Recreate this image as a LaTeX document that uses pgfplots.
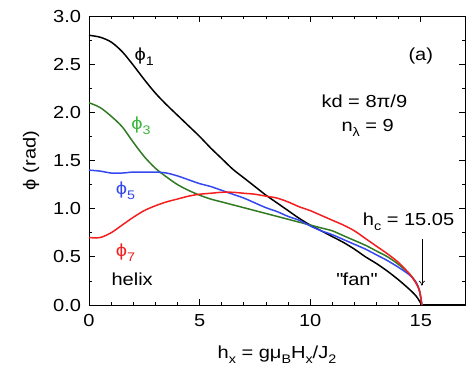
\documentclass[border=0pt]{standalone}
\usepackage{fontspec}
\setmainfont{Liberation Sans}[FakeStretch=1.15]
\usepackage{pgfplots}
\pgfplotsset{compat=1.18}
\usetikzlibrary{calc,arrows.meta}
\definecolor{lgreen}{HTML}{2F7A22}
\definecolor{tgreen}{HTML}{3DB53D}
\definecolor{lblue}{HTML}{3448F0}
\definecolor{lred}{HTML}{F41E1E}
\newcommand\sub[1]{\raisebox{-0.55ex}{\fontsize{12.5}{13}\selectfont #1}}

\pgfplotstableread{
x y
0 2.80
0.5 2.78
1 2.73
1.5 2.63
2 2.49
2.5 2.34
3 2.20
3.5 2.08
4 1.97
4.5 1.86
5 1.75
5.5 1.63
6 1.52
6.5 1.41
7 1.32
7.5 1.23
8 1.14
8.5 1.06
9 0.98
9.5 0.90
10 0.83
10.5 0.77
11 0.71
11.5 0.65
12 0.58
12.5 0.50
13 0.43
13.5 0.35
14 0.26
14.5 0.16
14.8 0.09
15.05 0.0
}\phione

\pgfplotstableread{
x y
15.05 0.0
17 0.0
}\phitail

\pgfplotstableread{
x y
0 2.10
0.5 2.05
1 1.96
1.5 1.85
2 1.69
2.5 1.54
3 1.42
3.5 1.33
4 1.25
4.5 1.19
5 1.14
5.5 1.10
6 1.07
6.5 1.04
7 1.01
7.5 0.98
8 0.95
8.5 0.92
9 0.89
9.5 0.86
10 0.83
10.5 0.80
11 0.77
11.5 0.72
12 0.67
12.5 0.62
13 0.56
13.5 0.50
14 0.42
14.5 0.32
14.8 0.23
14.95 0.14
15.05 0.0
}\phithree

\pgfplotstableread{
x y
0 1.40
0.5 1.39
1 1.37
1.5 1.37
2 1.38
2.5 1.38
3 1.38
3.5 1.37
4 1.34
4.5 1.30
5 1.26
5.5 1.23
6 1.19
6.5 1.15
7 1.11
7.5 1.06
8 1.01
8.5 0.97
9 0.92
9.5 0.88
10 0.82
10.5 0.77
11 0.73
11.5 0.68
12 0.63
12.5 0.58
13 0.52
13.5 0.46
14 0.39
14.5 0.31
14.8 0.23
14.95 0.14
15.05 0.0
}\phifive

\pgfplotstableread{
x y
0 0.70
0.5 0.70
1 0.75
1.5 0.83
2 0.91
2.5 0.98
3 1.03
3.5 1.07
4 1.10
4.5 1.13
5 1.15
5.5 1.16
6 1.17
6.5 1.17
7 1.16
7.5 1.15
8 1.13
8.5 1.11
9 1.07
9.5 1.02
10 0.98
10.5 0.93
11 0.88
11.5 0.83
12 0.77
12.5 0.69
13 0.61
13.5 0.53
14 0.44
14.5 0.32
14.8 0.22
14.95 0.14
15.05 0.0
}\phiseven

\begin{document}
\fontsize{17.5}{20}\selectfont
\begin{tikzpicture}
\begin{axis}[
  scale only axis, width=376bp, height=289bp,
  xmin=0, xmax=17, ymin=0, ymax=3,
  xtick={0,5,10,15}, minor x tick num=4,
  ytick={0,0.5,1,1.5,2,2.5,3}, minor y tick num=1,
  tick align=inside, major tick length=6bp, minor tick length=3.5bp,
  axis line style={line width=1pt}, every tick/.style={black, line width=0.8pt},
  /pgf/number format/assume math mode=true,
  yticklabel style={/pgf/number format/fixed, /pgf/number format/fixed zerofill,
    /pgf/number format/precision=1},
  ticklabel style={font=\fontsize{17.5}{20}\selectfont},
  xticklabel style={yshift=-3bp},
  yticklabel style={xshift=-2bp},
  xlabel={h\sub{x} = gμ\sub{B}H\sub{x}/J\sub{2}},
  ylabel={ϕ (rad)},
  label style={font=\fontsize{17.5}{20}\selectfont},
  xlabel style={yshift=-8bp},
  ylabel style={yshift=2bp},
  clip=false,
]
\coordinate (bl) at (rel axis cs:0,0);
\coordinate (tr) at (rel axis cs:1,1);
\addplot[black, line width=1.5pt, no marks, smooth] table {\phione};
\addplot[black, line width=1.5pt, no marks] table {\phitail};
\addplot[lgreen, line width=1.5pt, no marks, smooth] table {\phithree};
\addplot[lblue, line width=1.5pt, no marks, smooth] table {\phifive};
\addplot[lred, line width=1.5pt, no marks, smooth] table {\phiseven};
\node[black] at (axis cs:2.5,2.58) {ϕ\sub{1}};
\node[tgreen] at (axis cs:2.35,1.86) {ϕ\sub{3}};
\node[lblue] at (axis cs:1.65,1.19) {ϕ\sub{5}};
\node[lred] at (axis cs:1.65,0.54) {ϕ\sub{7}};
\node at (axis cs:1.95,0.27) {helix};
\node at (axis cs:15.0,2.59) {(a)};
\node at (axis cs:12.45,2.12) {kd = 8π/9};
\node at (axis cs:12.6,1.84) {n\sub{λ} = 9};
\node at (axis cs:14.45,0.86) {h\sub{c} = 15.05};
\node at (axis cs:12.1,0.27) {\textquotedbl fan\textquotedbl};
\draw[-{To[length=5bp,width=6bp]}, line width=0.6pt] (axis cs:15.05,0.68) -- (axis cs:15.05,0.2);
\end{axis}
\pgfresetboundingbox
\path[use as bounding box] ($(bl)+(-89bp,-77bp)$) rectangle ($(tr)+(6bp,16bp)$);
\end{tikzpicture}
\end{document}
